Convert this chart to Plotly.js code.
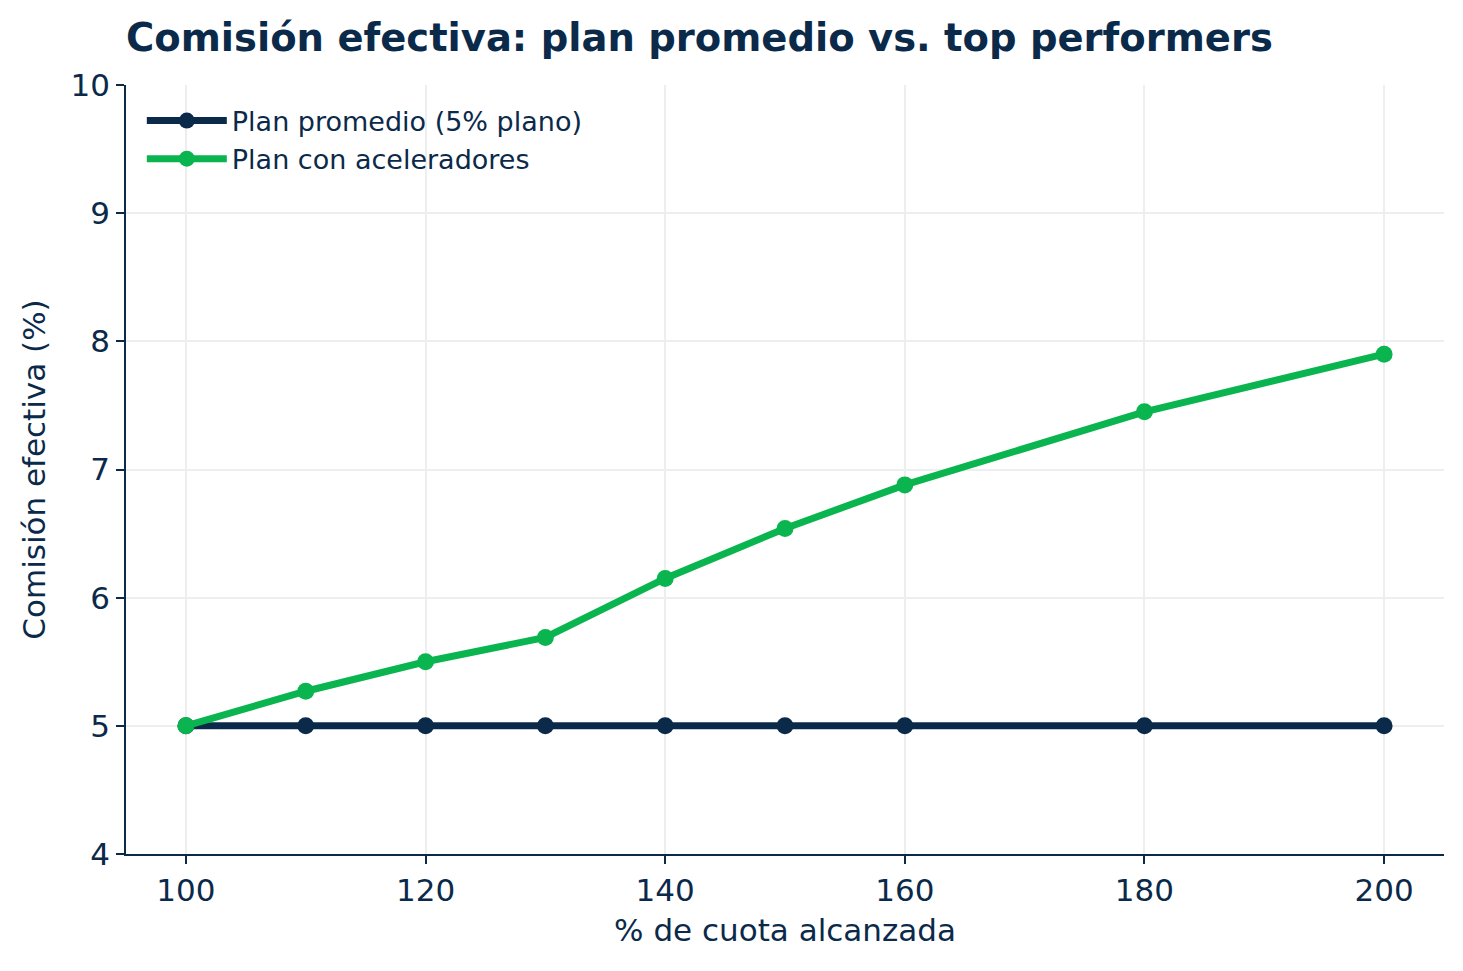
<!DOCTYPE html>
<html>
<head>
<meta charset="utf-8">
<script src="https://cdn.plot.ly/plotly-3.0.1.min.js"></script>
<style>body{margin:0;background:#fff}#chart{width:1463px;height:971px}</style>
</head>
<body>
<div id="chart"></div>
<script>
const quota = [100, 110, 120, 130, 140, 150, 160, 180, 200];
const flatPlan = [5, 5, 5, 5, 5, 5, 5, 5, 5];
const acceleratorPlan = [5.0, 5.27, 5.5, 5.69, 6.15, 6.54, 6.88, 7.45, 7.9];

const NAVY = "#0b2a4a";
const GREEN = "#0ab54f";

const data = [
  {
    x: quota, y: flatPlan, name: "Plan promedio (5% plano)",
    mode: "lines+markers", type: "scatter",
    line: { color: NAVY, width: 7 }, marker: { color: NAVY, size: 17 },
  },
  {
    x: quota, y: acceleratorPlan, name: "Plan con aceleradores",
    mode: "lines+markers", type: "scatter",
    line: { color: GREEN, width: 7 }, marker: { color: GREEN, size: 17 },
  },
];

const axisBase = {
  showline: true, linecolor: NAVY, linewidth: 1.5,
  ticks: "outside", ticklen: 8, tickcolor: NAVY, tickwidth: 1.5,
  showgrid: true, gridcolor: "#eeeeee", gridwidth: 1.5,
  zeroline: false, tickfont: { size: 31, color: NAVY },
};

const layout = {
  width: 1463, height: 971,
  font: { family: "DejaVu Sans", color: NAVY },
  paper_bgcolor: "#fff", plot_bgcolor: "#fff",
  title: {
    text: "<b>Comisión efectiva: plan promedio vs. top performers</b>",
    x: 126 / 1463, xanchor: "left", y: 0.961, yanchor: "middle",
    font: { size: 38.5, color: NAVY },
  },
  xaxis: Object.assign({}, axisBase, {
    range: [95, 205], tickvals: [100, 120, 140, 160, 180, 200],
    title: { text: "% de cuota alcanzada", font: { size: 31, color: NAVY }, standoff: 12 },
  }),
  yaxis: Object.assign({}, axisBase, {
    range: [4, 10], dtick: 1,
    title: { text: "Comisión efectiva (%)", font: { size: 31, color: NAVY }, standoff: 16 },
  }),
  showlegend: true,
  legend: {
    x: 0.012, y: 0.985, xanchor: "left", yanchor: "top",
    font: { size: 27, color: NAVY }, bgcolor: "rgba(0,0,0,0)",
    itemwidth: 80, tracegroupgap: 4,
  },
  margin: { l: 126, r: 19, t: 85, b: 117 },
};

Plotly.newPlot("chart", data, layout, { displayModeBar: false });
</script>
</body>
</html>
